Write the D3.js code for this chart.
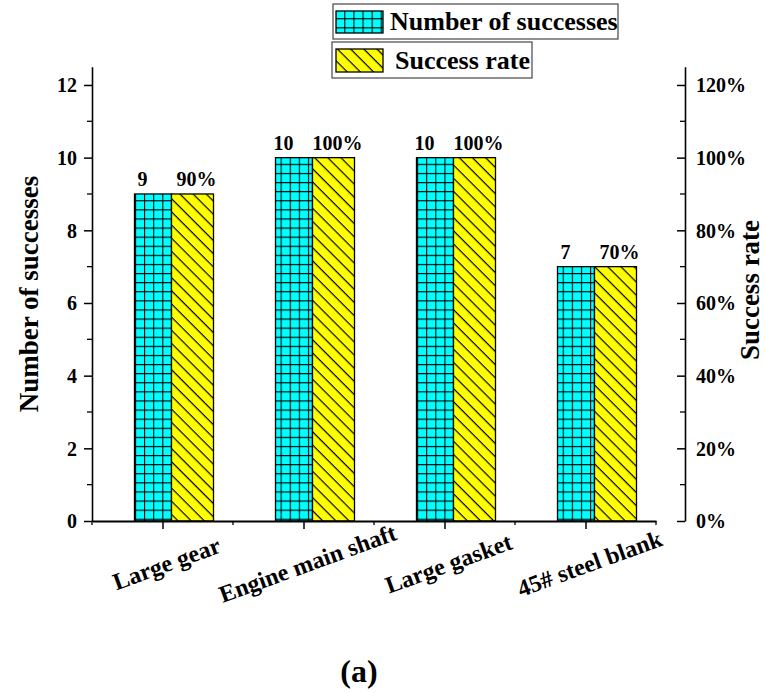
<!DOCTYPE html>
<html>
<head>
<meta charset="utf-8">
<script src="https://cdn.jsdelivr.net/npm/d3@7"></script>
<style>
  body { margin: 0; background: #fff; }
  text { font-family: "Liberation Serif", "Times New Roman", serif; font-weight: bold; fill: #000; }
</style>
</head>
<body>
<svg id="chart" width="765" height="693"></svg>
<script>
// ---- data ----
const categories = ["Large gear", "Engine main shaft", "Large gasket", "45# steel blank"];
const successes = [9, 10, 10, 7];
const successRate = [0.9, 1.0, 1.0, 0.7];
const seriesNames = ["Number of successes", "Success rate"];
const leftTicks = [0, 2, 4, 6, 8, 10, 12];
const rightTicks = [0, 0.2, 0.4, 0.6, 0.8, 1.0, 1.2];

const svg = d3.select("#chart");
const defs = svg.append("defs");

// patterns
const grid = defs.append("pattern").attr("id", "grid").attr("patternUnits", "userSpaceOnUse")
  .attr("width", 9.1).attr("height", 9.1).attr("x", 135).attr("y", 0);
grid.append("rect").attr("width", 9.1).attr("height", 9.1).attr("fill", "#00FFFF");
grid.append("path").attr("d", "M0,0.5H9.1M0.5,0V9.1").attr("stroke", "#000").attr("stroke-width", 1.1);

const hatch = defs.append("pattern").attr("id", "hatch").attr("patternUnits", "userSpaceOnUse")
  .attr("width", 10).attr("height", 9.3).attr("patternTransform", "rotate(45)");
hatch.append("rect").attr("width", 10).attr("height", 9.3).attr("fill", "#FFFF00");
hatch.append("path").attr("d", "M0,0.6H10").attr("stroke", "#000").attr("stroke-width", 1.2);

// scales
const x = d3.scaleLinear().domain([0.5, 4.5]).range([92, 656]);
const y = d3.scaleLinear().domain([0, 12.5]).range([521, 66.8]);
const y2 = d3.scaleLinear().domain([0, 1.25]).range([521, 66.8]);
const xRight = 685;

// bars
const idx = categories.map((c, i) => i + 1);
const cyanL = -28, cyanR = 9, yelR = 51;

svg.append("g").selectAll("rect").data(successes).join("rect")
  .attr("x", (d, i) => x(idx[i]) + cyanL)
  .attr("width", cyanR - cyanL)
  .attr("y", d => y(d))
  .attr("height", d => y(0) - y(d))
  .attr("fill", "url(#grid)").attr("stroke", "#000").attr("stroke-width", 1.3);

svg.append("g").selectAll("rect").data(successRate).join("rect")
  .attr("x", (d, i) => x(idx[i]) + cyanR)
  .attr("width", yelR - cyanR)
  .attr("y", d => y2(d))
  .attr("height", d => y2(0) - y2(d))
  .attr("fill", "url(#hatch)").attr("stroke", "#000").attr("stroke-width", 1.3);

// value labels
svg.append("g").selectAll("text").data(successes).join("text")
  .attr("x", (d, i) => x(idx[i]) - 20)
  .attr("y", d => y(d) - 8)
  .attr("text-anchor", "middle").attr("font-size", 20)
  .text(d => d);
svg.append("g").selectAll("text").data(successRate).join("text")
  .attr("x", (d, i) => x(idx[i]) + 34)
  .attr("y", d => y2(d) - 8)
  .attr("text-anchor", "middle").attr("font-size", 20)
  .text(d => d3.format(".0%")(d));

// left axis
const gL = svg.append("g").attr("transform", `translate(${x.range()[0]},0)`)
  .call(d3.axisLeft(y).tickValues(leftTicks).tickSize(8).tickSizeOuter(0).tickPadding(7).tickFormat(d3.format("d")));
gL.selectAll(".tick line").attr("stroke-width", 1.5);
gL.select(".domain").attr("stroke-width", 1.6);
gL.selectAll(".tick text").attr("font-size", 20).attr("font-family", "Liberation Serif").attr("font-weight", "bold").attr("dy", "0.34em");
gL.selectAll(".minor").data(leftTicks.slice(0, -1).map(v => v + 1)).join("line")
  .attr("x1", -5).attr("x2", 0).attr("y1", d => y(d)).attr("y2", d => y(d))
  .attr("stroke", "#000").attr("stroke-width", 1.3);

// right axis
const gR = svg.append("g").attr("transform", `translate(${xRight},0)`)
  .call(d3.axisRight(y2).tickValues(rightTicks).tickSizeInner(-8).tickSizeOuter(0).tickPadding(11).tickFormat(d3.format(".0%")));
gR.selectAll(".tick line").attr("stroke-width", 1.5);
gR.select(".domain").attr("stroke-width", 1.6);
gR.selectAll(".tick text").attr("font-size", 20).attr("font-family", "Liberation Serif").attr("font-weight", "bold").attr("dy", "0.34em");
gR.selectAll(".minor").data(rightTicks.slice(0, -1).map(v => v + 0.1)).join("line")
  .attr("x1", -5).attr("x2", 0).attr("y1", d => y2(d)).attr("y2", d => y2(d))
  .attr("stroke", "#000").attr("stroke-width", 1.3);

// bottom axis
const gB = svg.append("g").attr("transform", `translate(0,${y(0)})`)
  .call(d3.axisBottom(x).tickValues(idx).tickSize(8).tickSizeOuter(0).tickFormat(""));
gB.selectAll(".tick line").attr("stroke-width", 1.5);
gB.select(".domain").attr("stroke-width", 2);
gB.selectAll(".minor").data(idx.map(v => v - 0.5).concat([4.5])).join("line")
  .attr("x1", d => x(d)).attr("x2", d => x(d)).attr("y1", 0).attr("y2", 4)
  .attr("stroke", "#000").attr("stroke-width", 1.3);

// category labels
svg.append("g").selectAll("text").data(categories).join("text")
  .attr("transform", (d, i) => `translate(${x(idx[i]) + 5},${566}) rotate(-20)`)
  .attr("text-anchor", "middle").attr("dominant-baseline", "middle")
  .attr("font-size", 24)
  .text(d => d);

// axis titles
svg.append("text").attr("transform", "translate(38,294) rotate(-90)")
  .attr("text-anchor", "middle").attr("font-size", 27).text(seriesNames[0]);
svg.append("text").attr("transform", "translate(759,290) rotate(-90)")
  .attr("text-anchor", "middle").attr("font-size", 27).text(seriesNames[1]);

// legend
const legend = [
  { name: seriesNames[0], fill: "url(#grid)", box: [333, 4, 285, 35], sw: [336, 11, 47, 22], tx: 390, ty: 30 },
  { name: seriesNames[1], fill: "url(#hatch)", box: [332, 42, 200, 36], sw: [336, 49, 47, 23], tx: 395, ty: 69 }
];
const lg = svg.append("g").selectAll("g").data(legend).join("g");
lg.append("rect").attr("x", d => d.box[0]).attr("y", d => d.box[1]).attr("width", d => d.box[2]).attr("height", d => d.box[3])
  .attr("fill", "#fff").attr("stroke", "#555").attr("stroke-width", 1.3);
lg.append("rect").attr("x", d => d.sw[0]).attr("y", d => d.sw[1]).attr("width", d => d.sw[2]).attr("height", d => d.sw[3])
  .attr("fill", d => d.fill).attr("stroke", "#000").attr("stroke-width", 1.3);
lg.append("text").attr("x", d => d.tx).attr("y", d => d.ty).attr("font-size", 26).text(d => d.name);

// panel label
svg.append("text").attr("x", 359).attr("y", 682).attr("text-anchor", "middle").attr("font-size", 32).text("(a)");
</script>
</body>
</html>
